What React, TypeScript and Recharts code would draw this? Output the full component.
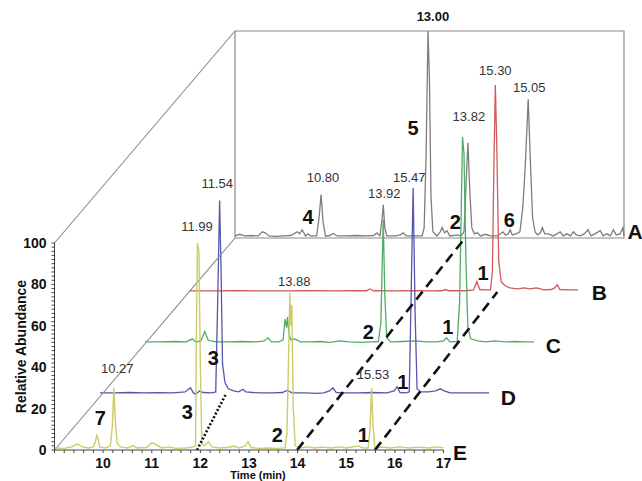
import { LineChart, Line, XAxis, YAxis, ReferenceArea, ReferenceLine, ReferenceDot, Label } from 'recharts'

type Pt = [number, number]
type TraceKey = 'A' | 'B' | 'C' | 'D' | 'E'

// chromatograms, [time (min), relative abundance]
const traceA: Pt[] = [
  [9.0, 1], [9.1, 1.8], [9.2, 1], [9.35, 1.2], [9.48, 1], [9.56, 3], [9.62, 2.5], [9.7, 1], [9.85, 0.8],
  [10.0, 1], [10.15, 1.2], [10.28, 3], [10.33, 2], [10.38, 4], [10.45, 1], [10.5, 2], [10.55, 1],
  [10.68, 1], [10.73, 10], [10.77, 21], [10.81, 8], [10.86, 1], [10.95, 1.2], [11.02, 2.2], [11.1, 1],
  [11.3, 1], [11.5, 1.2], [11.7, 1], [11.85, 1.2], [11.92, 2.5], [11.98, 1], [12.02, 8], [12.05, 16],
  [12.08, 5], [12.12, 1], [12.3, 1], [12.4, 1.5], [12.46, 2.5], [12.52, 1], [12.7, 1], [12.85, 1],
  [12.89, 5], [12.93, 40], [12.97, 100], [13.0, 75], [13.03, 20], [13.07, 3], [13.15, 1], [13.22, 3],
  [13.26, 5], [13.31, 2.5], [13.36, 3.5], [13.42, 1], [13.57, 1.5], [13.65, 1], [13.71, 3], [13.75, 25],
  [13.79, 46], [13.83, 22], [13.87, 5], [13.92, 2], [13.98, 2.5], [14.05, 1], [14.15, 1.8], [14.25, 1],
  [14.4, 1], [14.51, 3], [14.56, 1.5], [14.62, 2], [14.66, 4], [14.7, 1.5], [14.78, 2], [14.86, 3],
  [14.92, 15], [14.97, 35], [15.03, 67], [15.07, 40], [15.12, 10], [15.17, 3], [15.22, 1.5], [15.28, 2.5],
  [15.32, 5], [15.37, 2], [15.45, 2], [15.54, 1], [15.62, 2], [15.69, 3], [15.75, 1], [15.83, 2],
  [15.9, 1], [15.96, 3], [16.02, 1.5], [16.1, 1], [16.18, 2], [16.26, 4], [16.32, 1], [16.4, 2],
  [16.51, 3.5], [16.57, 1], [16.65, 2], [16.72, 1], [16.78, 4], [16.84, 1.5], [16.92, 2], [16.98, 5], [17.0, 1],
]

const traceB: Pt[] = [
  [9.0, 0.5], [9.5, 0.5], [10.0, 0.6], [10.5, 0.5], [11.0, 0.5], [11.5, 0.6], [12.0, 0.5], [12.4, 0.6],
  [12.65, 0.6], [12.72, 1.5], [12.8, 0.6], [13.2, 0.5], [13.6, 0.6], [14.0, 0.5], [14.2, 0.6], [14.27, 1.2],
  [14.35, 0.6], [14.7, 0.6], [14.85, 1], [14.92, 5], [14.98, 1.2], [15.1, 1], [15.2, 1], [15.24, 10],
  [15.27, 60], [15.3, 100], [15.33, 70], [15.37, 15], [15.42, 5], [15.5, 3], [15.6, 2], [15.75, 1.5],
  [15.9, 2], [16.0, 1.5], [16.15, 2], [16.3, 1], [16.45, 1.2], [16.52, 2], [16.57, 3.5], [16.63, 1.2],
  [16.8, 1], [17.0, 1],
]

const traceC: Pt[] = [
  [9.0, 1], [9.3, 1], [9.6, 1.2], [9.85, 1], [9.97, 2.5], [10.05, 1], [10.15, 1.5], [10.23, 6], [10.3, 1.8],
  [10.45, 1], [10.7, 1], [11.0, 1.2], [11.3, 1], [11.45, 1.5], [11.53, 3], [11.6, 1], [11.75, 1], [11.84, 2],
  [11.88, 12], [11.91, 8], [11.93, 13], [11.96, 5], [12.0, 2], [12.08, 2.5], [12.2, 1], [12.4, 1], [12.6, 1.2],
  [12.8, 0.8], [13.0, 1.5], [13.2, 1], [13.45, 0.8], [13.65, 1], [13.8, 1.2], [13.85, 10], [13.88, 40],
  [13.9, 60], [13.93, 25], [13.97, 3], [14.05, 1], [14.3, 1.2], [14.55, 1.5], [14.8, 1], [15.0, 1],
  [15.14, 1.5], [15.2, 3], [15.27, 1], [15.42, 1.2], [15.47, 20], [15.5, 60], [15.53, 100], [15.56, 92],
  [15.6, 40], [15.64, 8], [15.7, 2.5], [15.85, 1.5], [16.0, 1], [16.2, 1.5], [16.4, 1], [16.6, 1.2],
  [16.8, 1], [17.0, 1],
]

const traceD: Pt[] = [
  [9.0, 1], [9.3, 1], [9.6, 1.2], [9.9, 1], [10.2, 1.1], [10.5, 1], [10.75, 1.5], [10.86, 3.5], [10.92, 1],
  [10.97, 0.4], [11.05, 2], [11.12, 1.2], [11.3, 1], [11.38, 1.5], [11.42, 45], [11.46, 94], [11.49, 60],
  [11.52, 15], [11.57, 6], [11.64, 3], [11.75, 2], [11.85, 1.5], [11.94, 2.8], [12.0, 1.5], [12.15, 1.2],
  [12.3, 1], [12.55, 1], [12.75, 1.2], [12.85, 2.2], [12.95, 1], [13.2, 1], [13.45, 0.8], [13.6, 1],
  [13.72, 2], [13.79, 3.5], [13.86, 1.2], [14.0, 1], [14.3, 1], [14.6, 1.2], [14.9, 1], [15.05, 2],
  [15.11, 4], [15.17, 1.2], [15.3, 1], [15.36, 1.5], [15.4, 50], [15.44, 100], [15.48, 40], [15.52, 3],
  [15.6, 1.5], [15.75, 1.5], [15.9, 2], [16.0, 3], [16.08, 2], [16.2, 1], [16.45, 1], [16.7, 1], [17.0, 1],
]

const traceE: Pt[] = [
  [9.0, 1], [9.2, 0.8], [9.35, 1.5], [9.48, 3], [9.56, 1.6], [9.7, 1], [9.8, 1.5], [9.84, 4], [9.87, 7],
  [9.9, 5], [9.93, 1.5], [10.05, 1], [10.15, 2], [10.19, 12], [10.22, 30], [10.25, 14], [10.29, 3],
  [10.36, 1.5], [10.5, 1], [10.62, 2], [10.7, 1], [10.9, 1.2], [11.0, 3.5], [11.06, 3], [11.1, 2.5],
  [11.2, 1], [11.35, 1.5], [11.5, 0.8], [11.7, 1], [11.85, 1.5], [11.9, 2], [11.92, 60], [11.94, 100],
  [11.97, 96], [12.0, 40], [12.03, 3], [12.08, 2], [12.16, 4], [12.24, 1.5], [12.4, 1], [12.55, 1.2],
  [12.7, 1.8], [12.8, 1], [12.92, 2], [12.98, 4], [13.04, 1.2], [13.2, 0.8], [13.4, 1], [13.6, 0.8],
  [13.74, 1], [13.78, 8], [13.81, 40], [13.84, 76], [13.86, 60], [13.88, 70], [13.91, 20], [13.95, 2],
  [14.05, 1], [14.2, 1.5], [14.35, 1], [14.5, 1.4], [14.7, 1], [14.85, 1.5], [15.0, 1], [15.15, 1.6],
  [15.25, 2], [15.35, 1], [15.45, 1], [15.49, 10], [15.52, 30], [15.55, 12], [15.59, 1], [15.75, 1.4],
  [15.9, 1], [16.1, 1.5], [16.3, 1], [16.5, 1.4], [16.7, 1], [16.85, 1.5], [17.0, 1],
]

// annotations in each trace's own time / abundance
const peakTimes: [TraceKey, number, number, string][] = [
  ['E', 10.29, 39.6, '10.27'], ['E', 11.93, 108.2, '11.99'], ['E', 13.93, 81.6, '13.88'], ['E', 15.55, 36.7, '15.53'],
  ['D', 11.41, 102.4, '11.54'], ['D', 15.36, 105.3, '15.47'],
  ['C', 13.92, 72.9, '13.92'],
  ['B', 15.3, 107.2, '15.30'],
  ['A', 10.81, 29, '10.80'], ['A', 13.81, 58.5, '13.82'], ['A', 15.05, 72.5, '15.05'],
]
const basePeak: [TraceKey, number, number, string] = ['A', 13.07, 107.2, '13.00']

const peakNumbers: [TraceKey, number, number, string][] = [
  ['E', 9.94, 15.5, '7'], ['E', 11.73, 18.4, '3'], ['E', 13.58, 7.2, '2'], ['E', 15.35, 7.2, '1'],
  ['D', 11.33, 17.9, '3'], ['D', 15.23, 6.3, '1'],
  ['C', 13.59, 5.8, '2'], ['C', 15.23, 8.2, '1'],
  ['B', 15.05, 9.2, '1'],
  ['A', 10.5, 10.1, '4'], ['A', 12.66, 53, '5'], ['A', 13.53, 7.7, '2'], ['A', 14.64, 8.7, '6'],
]

const traceNames: [TraceKey, number, number][] = [
  ['A', 17.23, 2.9], ['B', 17.44, 0], ['C', 17.4, -0.5], ['D', 17.4, -1], ['E', 17.34, -1],
]

// same compound across traces: [from trace, time, to trace, time]
const dashedLinks: [TraceKey, number, TraceKey, number][] = [
  ['E', 13.99, 'A', 13.73],
  ['E', 15.59, 'B', 15.34],
]
const dottedLinks: [TraceKey, number, TraceKey, number][] = [['E', 11.93, 'D', 11.58]]

const xMajor = [10, 11, 12, 13, 14, 15, 16, 17]
const yMajor = [0, 20, 40, 60, 80, 100]

// layout
const W = 642
const H = 481
const FRONT_X = 54.5
const FRONT_Y = 450
const PLOT_W = 389
const PLOT_H = 207
const PX_MIN = PLOT_W / 8
const PX_UNIT = PLOT_H / 100
const SHIFT: Record<TraceKey, [number, number]> = {
  E: [0, 0],
  D: [45.5, 55],
  C: [90.5, 106],
  B: [134.5, 158],
  A: [180.5, 212],
}
const COLORS: Record<TraceKey, string> = {
  A: '#7d7d7d',
  B: '#d05a5a',
  C: '#4fae63',
  D: '#5656ab',
  E: '#cdcc6c',
}
const FONT = '"Liberation Sans", Arial, sans-serif'
const Y_AXIS_W = 40
const X_AXIS_H = H - FRONT_Y

const xTicks = Array.from({ length: 41 }, (_, i) => 9 + i * 0.2)
const yTicks = Array.from({ length: 51 }, (_, i) => i * 2)

const toFront = (k: TraceKey, t: number, v: number): [number, number] => [
  t + SHIFT[k][0] / PX_MIN,
  v + SHIFT[k][1] / PX_UNIT,
]

function plotMargin(k: TraceKey) {
  const left = FRONT_X + SHIFT[k][0]
  const bottom = FRONT_Y - SHIFT[k][1]
  return { left, top: bottom - PLOT_H, right: W - left - PLOT_W, bottom: H - bottom }
}

const asRows = (pts: Pt[]) => pts.map(([t, v]) => ({ t, v }))

function BackTrace({ k, pts, box }: { k: TraceKey; pts: Pt[]; box?: boolean }) {
  return (
    <div style={{ position: 'absolute', left: 0, top: 0 }}>
      <LineChart width={W} height={H} data={asRows(pts)} margin={plotMargin(k)}>
        <XAxis type="number" dataKey="t" domain={[9, 17]} hide />
        <YAxis type="number" domain={[0, 100]} hide />
        {box && (
          <ReferenceArea x1={9} x2={17} y1={0} y2={100} fill="none" stroke="#8a8a8a" strokeWidth={1.2} />
        )}
        <Line
          dataKey="v"
          type="linear"
          stroke={COLORS[k]}
          strokeWidth={1.3}
          dot={false}
          isAnimationActive={false}
        />
      </LineChart>
    </div>
  )
}

function textDot(key: string, k: TraceKey, t: number, v: number, text: string, style: Record<string, any>) {
  const [x, y] = toFront(k, t, v)
  return (
    <ReferenceDot
      key={key}
      x={x}
      y={y}
      r={0}
      ifOverflow="visible"
      shape={(p: any) => (
        <text
          x={p.cx}
          y={p.cy}
          textAnchor="middle"
          dominantBaseline="central"
          fontFamily={FONT}
          {...style}
        >
          {text}
        </text>
      )}
    />
  )
}

function linkLine(key: string, link: [TraceKey, number, TraceKey, number], dash: string) {
  const [k1, t1, k2, t2] = link
  const [x1, y1] = toFront(k1, t1, 0)
  const [x2, y2] = toFront(k2, t2, 0)
  return (
    <ReferenceLine
      key={key}
      segment={[{ x: x1, y: y1 }, { x: x2, y: y2 }]}
      ifOverflow="visible"
      stroke="#111"
      strokeWidth={2.6}
      strokeDasharray={dash}
    />
  )
}

function FrontTrace() {
  const m = plotMargin('E')
  const [fx, fy] = toFront('A', 9, 0)
  const [tx, ty] = toFront('A', 9, 100)
  const isMajorX = (v: number) => Math.abs(v - Math.round(v)) < 1e-6 && xMajor.includes(Math.round(v))
  return (
    <div style={{ position: 'absolute', left: 0, top: 0 }}>
      <LineChart
        width={W}
        height={H}
        data={asRows(traceE)}
        margin={{ left: m.left - Y_AXIS_W, top: m.top, right: m.right, bottom: m.bottom - X_AXIS_H }}
      >
        <XAxis
          type="number"
          dataKey="t"
          domain={[9, 17]}
          ticks={xTicks}
          interval={0}
          height={X_AXIS_H}
          tickSize={3}
          tickMargin={5}
          stroke="#444"
          tick={{ fontSize: 14, fontWeight: 'bold', fill: '#111', fontFamily: FONT }}
          tickFormatter={(v: number) => (isMajorX(v) ? String(Math.round(v)) : '')}
        >
          <Label
            content={({ viewBox }: any) => (
              <text
                x={viewBox.x + viewBox.width / 2 + 9}
                y={viewBox.y + 25}
                textAnchor="middle"
                dominantBaseline="central"
                fontFamily={FONT}
                fontSize={11}
                fontWeight="bold"
                fill="#111"
              >
                Time (min)
              </text>
            )}
          />
        </XAxis>
        <YAxis
          type="number"
          domain={[0, 100]}
          ticks={yTicks}
          interval={0}
          width={Y_AXIS_W}
          tickSize={3}
          tickMargin={5}
          stroke="#444"
          tick={{ fontSize: 14, fontWeight: 'bold', fill: '#111', fontFamily: FONT }}
          tickFormatter={(v: number) => (yMajor.includes(v) ? String(v) : '')}
        >
          <Label
            content={({ viewBox }: any) => {
              const cx = viewBox.x + 6
              const cy = viewBox.y + viewBox.height / 2
              return (
                <text
                  x={cx}
                  y={cy}
                  transform={`rotate(-90 ${cx} ${cy})`}
                  textAnchor="middle"
                  dominantBaseline="central"
                  fontFamily={FONT}
                  fontSize={14}
                  fontWeight="bold"
                  fill="#111"
                >
                  Relative Abundance
                </text>
              )
            }}
          />
        </YAxis>
        <ReferenceLine segment={[{ x: 9, y: 0 }, { x: fx, y: fy }]} ifOverflow="visible" stroke="#8a8a8a" strokeWidth={1.1} />
        <ReferenceLine segment={[{ x: 9, y: 100 }, { x: tx, y: ty }]} ifOverflow="visible" stroke="#8a8a8a" strokeWidth={1.1} />
        <Line dataKey="v" type="linear" stroke={COLORS.E} strokeWidth={1.4} dot={false} isAnimationActive={false} />
        {dashedLinks.map((l, i) => linkLine(`dash${i}`, l, '10 6'))}
        {dottedLinks.map((l, i) => linkLine(`dot${i}`, l, '2 2'))}
        {peakTimes.map(([k, t, v, s], i) => textDot(`pt${i}`, k, t, v, s, { fontSize: 13, fill: '#333' }))}
        {textDot('base', basePeak[0], basePeak[1], basePeak[2], basePeak[3], { fontSize: 13, fontWeight: 'bold', fill: '#111' })}
        {peakNumbers.map(([k, t, v, s], i) => textDot(`pn${i}`, k, t, v, s, { fontSize: 20, fontWeight: 'bold', fill: '#111' }))}
        {traceNames.map(([k, t, v]) => textDot(`tn${k}`, k, t, v, k, { fontSize: 21, fontWeight: 'bold', fill: '#111' }))}
      </LineChart>
    </div>
  )
}

export default function App() {
  return (
    <div style={{ position: 'absolute', left: 0, top: 0, width: W, height: H, background: '#fff', overflow: 'hidden' }}>
      <BackTrace k="A" pts={traceA} box />
      <BackTrace k="B" pts={traceB} />
      <BackTrace k="C" pts={traceC} />
      <BackTrace k="D" pts={traceD} />
      <FrontTrace />
    </div>
  )
}
